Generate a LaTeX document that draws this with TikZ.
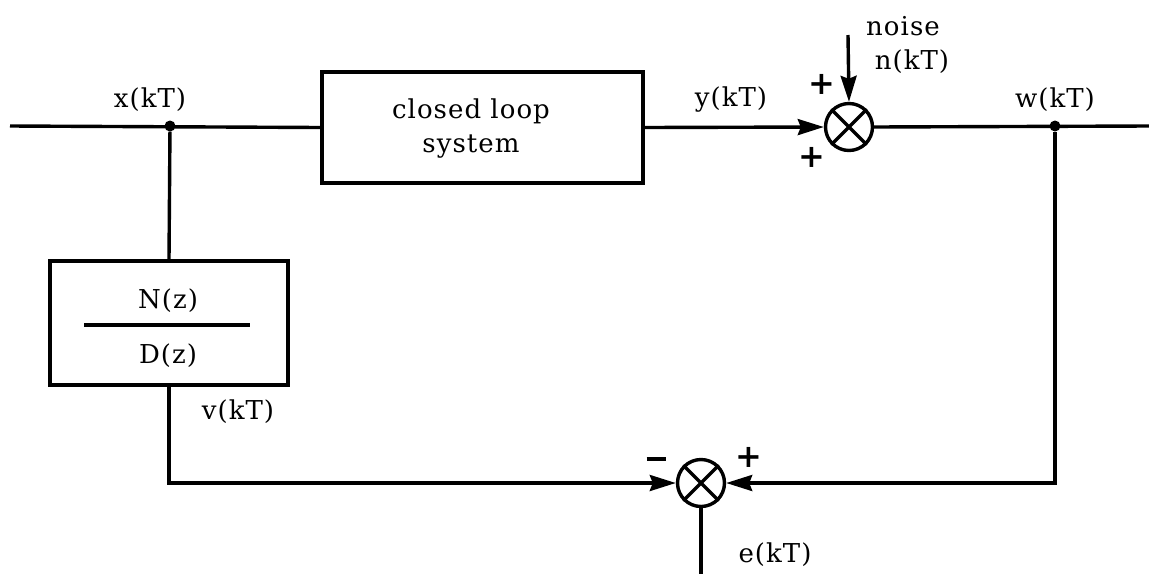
\documentclass[tikz,border=0pt]{standalone}
\usepackage{fontspec}
\setmainfont{DejaVu Serif}[LetterSpace=4]
\usetikzlibrary{arrows.meta}
\begin{document}
\begin{tikzpicture}[x=1pt,y=-1pt,
  wire/.style={line width=3.4pt},
  arr/.style={wire,-{Stealth[length=26pt,width=16pt,inset=3pt]}},
  blk/.style={draw,line width=3.4pt,inner sep=0pt},
  sumj/.style={draw,circle,line width=3.4pt,minimum size=47pt,inner sep=0pt},
  lbl/.style={font=\fontsize{26}{30}\selectfont,inner sep=0pt},
  sgn/.style={font=\fontsize{32}{32}\selectfont\bfseries,inner sep=0pt},
  dot/.style={circle,fill,minimum size=11pt,inner sep=0pt}]
\useasboundingbox (0,0) rectangle (1149,574);
% nodes
\coordinate (in) at (10,126);
\node[dot] (xj) at (170,126) {};
\node[blk,minimum width=321pt,minimum height=111pt] (cl) at (482.5,127.5) {};
\node[lbl,align=center] (cltxt) at (471,129) {closed loop\\[4pt]system};
\node[sumj] (s1) at (849,127) {};
\coordinate (nz) at (848,35);
\node[dot] (wj) at (1055,126) {};
\coordinate (out) at (1149,126);
\node[blk,minimum width=238pt,minimum height=124pt] (nd) at (169,323) {};
\node[lbl] (num) at (168,301) {N(z)};
\node[lbl] (den) at (168,356) {D(z)};
\coordinate (fl) at (84,325);
\coordinate (fr) at (250,325);
\node[sumj] (s2) at (701,483) {};
\coordinate (eo) at (701,574);
% X marks in summing junctions
\draw[wire] (s1.north west) -- (s1.south east) (s1.north east) -- (s1.south west);
\draw[wire] (s2.north west) -- (s2.south east) (s2.north east) -- (s2.south west);
\draw[wire] (fl) -- (fr);
% connectors
\draw[wire] (in) -- (cl.west);
\draw[arr] (cl.east) -- (s1.west);
\draw[arr] (nz) -- (s1.north);
\draw[wire] (s1.east) -- (out);
\draw[wire] (xj) -- (nd.north);
\draw[arr] (nd.south) |- (s2.west);
\draw[arr] (wj) |- (s2.east);
\draw[wire] (s2.south) -- (eo);
% labels
\node[lbl] (lx) at (150,100) {x(kT)};
\node[lbl] (ly) at (731,100) {y(kT)};
\node[lbl] (lw) at (1055,100) {w(kT)};
\node[lbl] (lnoise) at (903,26) {noise};
\node[lbl] (ln) at (912,62) {n(kT)};
\node[lbl] (lv) at (238,412) {v(kT)};
\node[lbl] (le) at (775,555) {e(kT)};
\node[sgn] (p1) at (822,84) {+};
\node[sgn] (p2) at (812,157) {+};
\node[inner sep=0pt] (m1) at (656,459) {\rule{19pt}{4.5pt}};
\node[sgn] (p3) at (749,457) {+};
\end{tikzpicture}
\end{document}
